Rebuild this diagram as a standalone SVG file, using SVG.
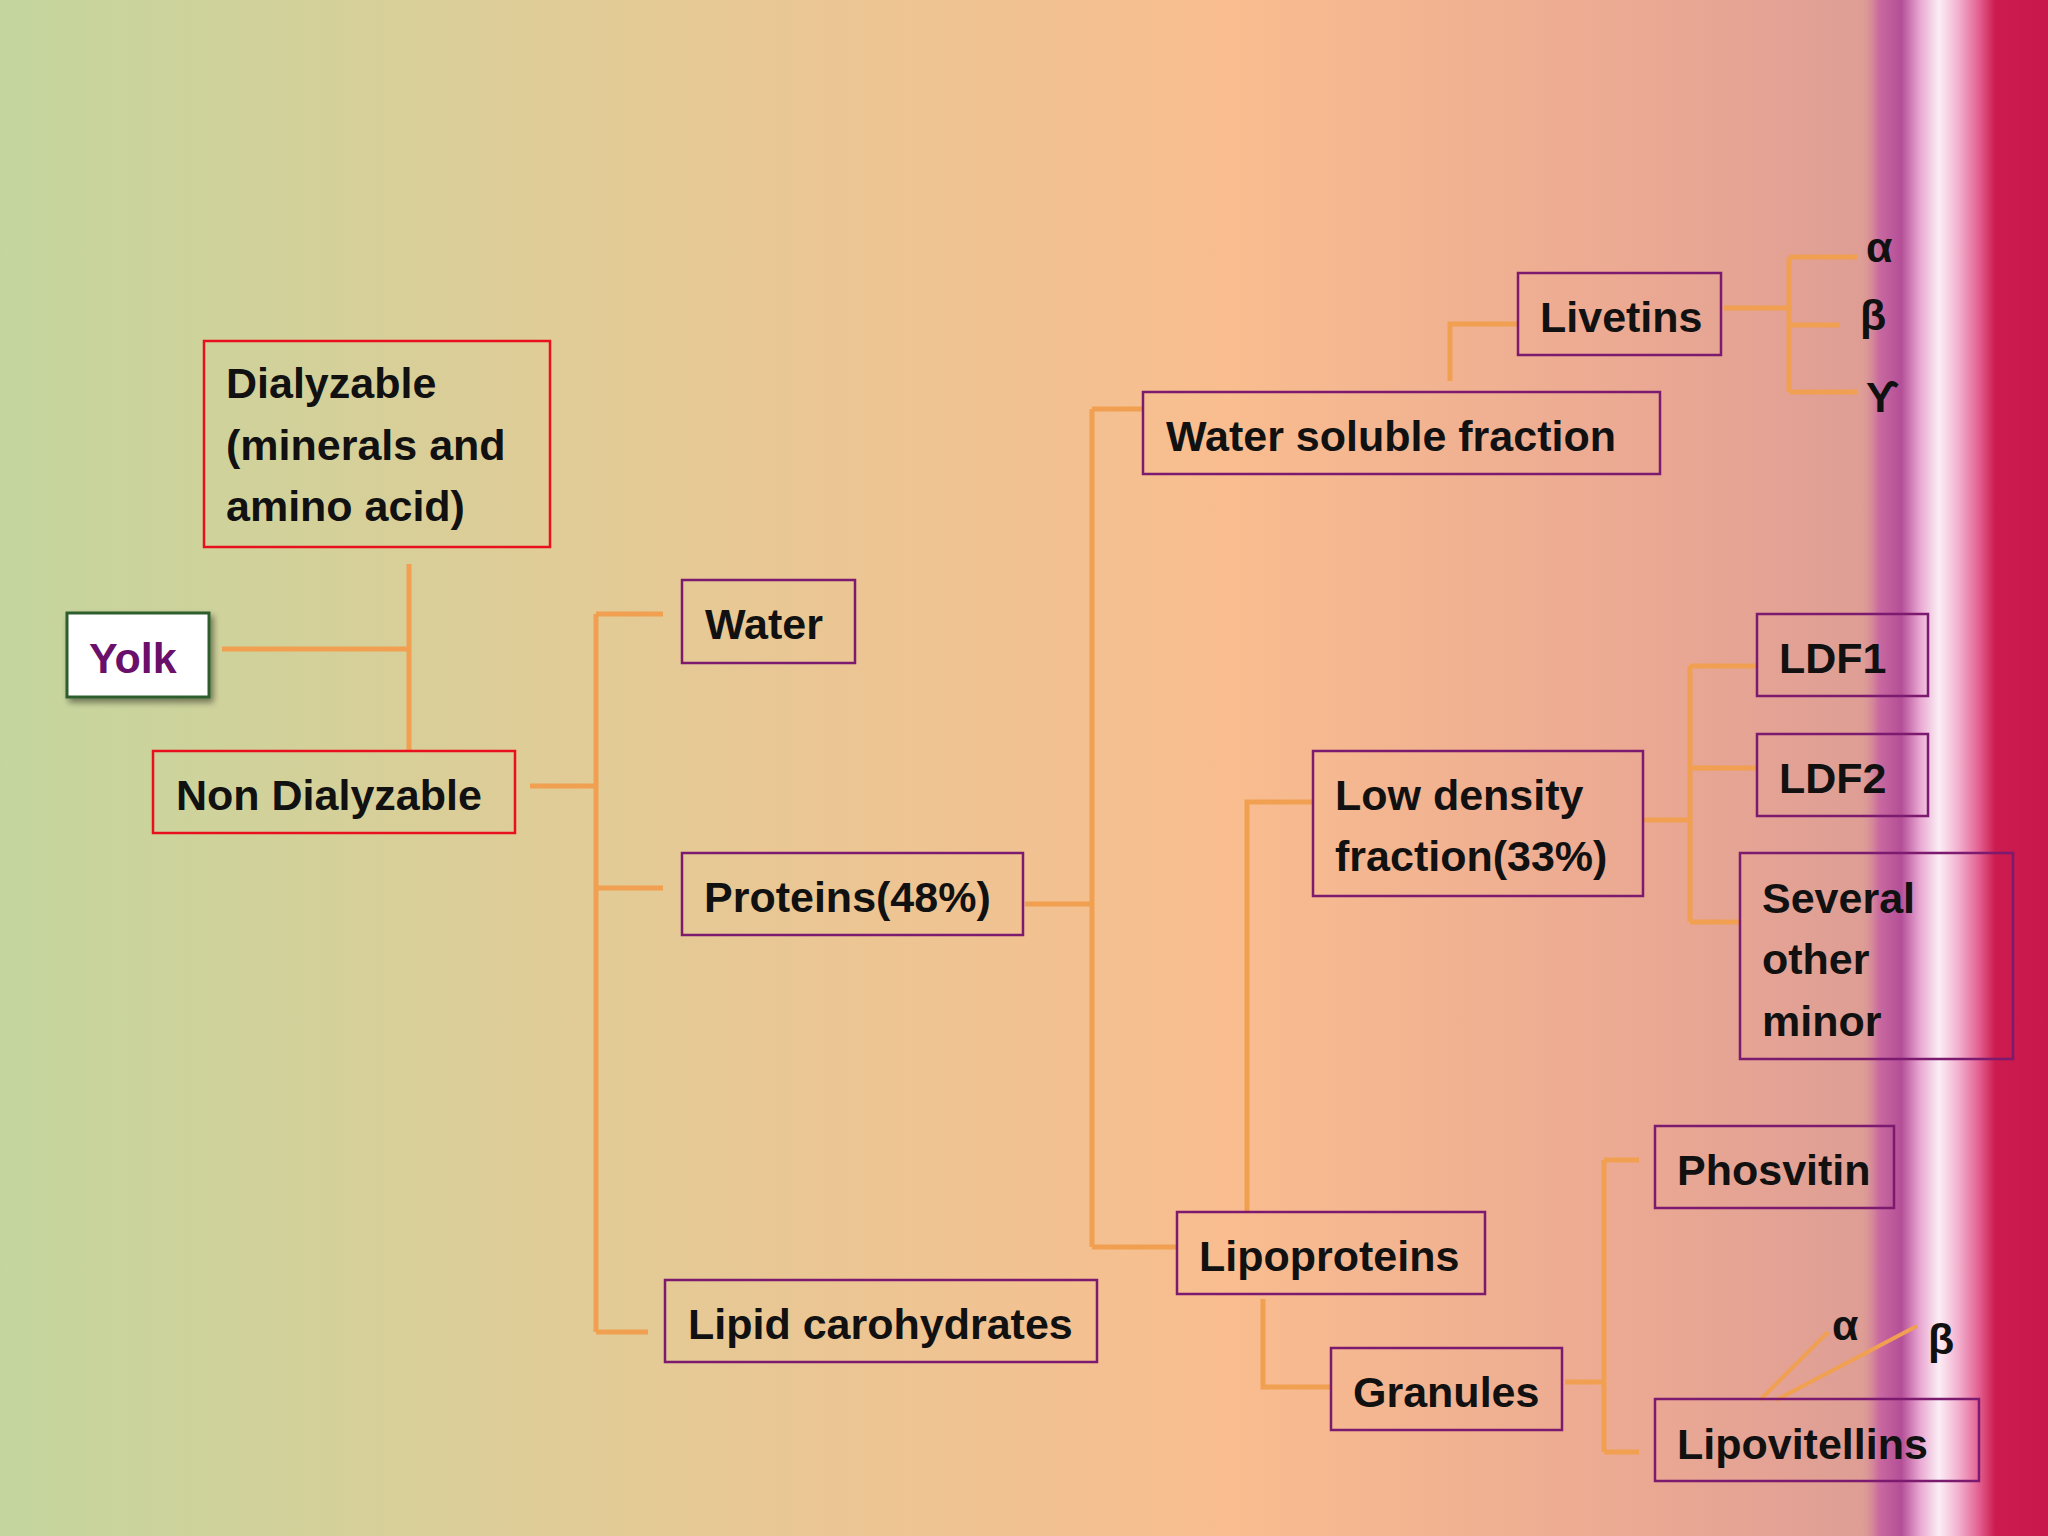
<svg xmlns="http://www.w3.org/2000/svg" width="2048" height="1536" viewBox="0 0 2048 1536">
<defs>
<linearGradient id="bg" x1="0" y1="0" x2="1" y2="0">
<stop offset="0" stop-color="#c4d69e"/>
<stop offset="0.3" stop-color="#e3cb96"/>
<stop offset="0.6" stop-color="#f9bd8f"/>
<stop offset="0.8" stop-color="#eba993"/>
<stop offset="0.92" stop-color="#dd9d95"/>
<stop offset="1" stop-color="#dd9d95"/>
</linearGradient>
<linearGradient id="st" x1="0" y1="0" x2="1" y2="0">
<stop offset="0" stop-color="#dd9d95" stop-opacity="0"/>
<stop offset="0.1" stop-color="#c96aa0"/>
<stop offset="0.22" stop-color="#b44e97"/>
<stop offset="0.32" stop-color="#e9a8d2"/>
<stop offset="0.42" stop-color="#fbeef5"/>
<stop offset="0.52" stop-color="#f3b3d0"/>
<stop offset="0.62" stop-color="#e56a9a"/>
<stop offset="0.72" stop-color="#cc1b4f"/>
<stop offset="1" stop-color="#c8174a"/>
</linearGradient>
<filter id="sh" x="-20%" y="-20%" width="150%" height="150%"><feDropShadow dx="3" dy="4" stdDeviation="3" flood-opacity="0.45"/></filter>
</defs>
<style>
.b{fill:none;stroke:#7b1a6e;stroke-width:2.5}
.r{fill:none;stroke:#e8101c;stroke-width:2.5}
.t{font-family:"Liberation Sans",Arial,sans-serif;font-weight:bold;font-size:43px;fill:#111}
.c{stroke:#f0a050;stroke-width:5;fill:none}
</style>
<rect width="2048" height="1536" fill="url(#bg)"/>
<rect x="1860" y="0" width="188" height="1536" fill="url(#st)"/>
<g id="connectors" class="c">
<path d="M222,649H409M409,564V751"/>
<path d="M530,786H596M596,614V1332M596,614H663M596,888H663M596,1332H648"/>
<path d="M1025,904H1092M1092,409V1247M1092,409H1143M1092,1247H1177"/>
<path d="M1450,381V324H1518"/>
<path d="M1724,308H1789M1789,257V392M1789,257H1857M1789,325H1840M1789,392H1857"/>
<path d="M1247,1212V802H1313"/>
<path d="M1263,1299V1387H1331"/>
<path d="M1643,820H1690M1690,666V922M1690,666H1757M1690,768H1757M1690,922H1740"/>
<path d="M1565,1382H1604M1604,1160V1452M1604,1160H1639M1604,1452H1639"/>
<path d="M1760,1400L1828,1332M1776,1400L1917,1326" stroke-width="4"/>
</g>
<g id="yolk"><rect x="67" y="613" width="142" height="84" fill="#fff" stroke="#2f5d2f" stroke-width="3" filter="url(#sh)"/><text class="t" x="89" y="673" style="fill:#6a0f6a">Yolk</text></g>
<g id="dialyzable"><rect class="r" x="204" y="341" width="346" height="206"/><text class="t" x="226" y="398">Dialyzable</text><text class="t" x="226" y="460">(minerals and</text><text class="t" x="226" y="521">amino acid)</text></g>
<g id="nondialyzable"><rect class="r" x="153" y="751" width="362" height="82"/><text class="t" x="176" y="810">Non Dialyzable</text></g>
<g id="water"><rect class="b" x="682" y="580" width="173" height="83"/><text class="t" x="705" y="639">Water</text></g>
<g id="proteins"><rect class="b" x="682" y="853" width="341" height="82"/><text class="t" x="704" y="912">Proteins(48%)</text></g>
<g id="lipid"><rect class="b" x="665" y="1280" width="432" height="82"/><text class="t" x="688" y="1339">Lipid carohydrates</text></g>
<g id="wsf"><rect class="b" x="1143" y="392" width="517" height="82"/><text class="t" x="1166" y="451">Water soluble fraction</text></g>
<g id="livetins"><rect class="b" x="1518" y="273" width="203" height="82"/><text class="t" x="1540" y="332">Livetins</text></g>
<g id="greek1"><text class="t" x="1866" y="262">α</text><text class="t" x="1860" y="330">β</text><text class="t" x="1866" y="412">ϒ</text></g>
<g id="ldf"><rect class="b" x="1313" y="751" width="330" height="145"/><text class="t" x="1335" y="810">Low density</text><text class="t" x="1335" y="871">fraction(33%)</text></g>
<g id="ldf1"><rect class="b" x="1757" y="614" width="171" height="82"/><text class="t" x="1779" y="673">LDF1</text></g>
<g id="ldf2"><rect class="b" x="1757" y="734" width="171" height="82"/><text class="t" x="1779" y="793">LDF2</text></g>
<g id="several"><rect class="b" x="1740" y="853" width="273" height="206"/><text class="t" x="1762" y="913">Several</text><text class="t" x="1762" y="974">other</text><text class="t" x="1762" y="1036">minor</text></g>
<g id="phosvitin"><rect class="b" x="1655" y="1126" width="239" height="82"/><text class="t" x="1677" y="1185">Phosvitin</text></g>
<g id="lipoproteins"><rect class="b" x="1177" y="1212" width="308" height="82"/><text class="t" x="1199" y="1271">Lipoproteins</text></g>
<g id="granules"><rect class="b" x="1331" y="1348" width="231" height="82"/><text class="t" x="1353" y="1407">Granules</text></g>
<g id="lipovitellins"><rect class="b" x="1655" y="1399" width="324" height="82"/><text class="t" x="1677" y="1459">Lipovitellins</text></g>
<g id="greek2"><text class="t" x="1832" y="1340">α</text><text class="t" x="1928" y="1354">β</text></g>
</svg>
